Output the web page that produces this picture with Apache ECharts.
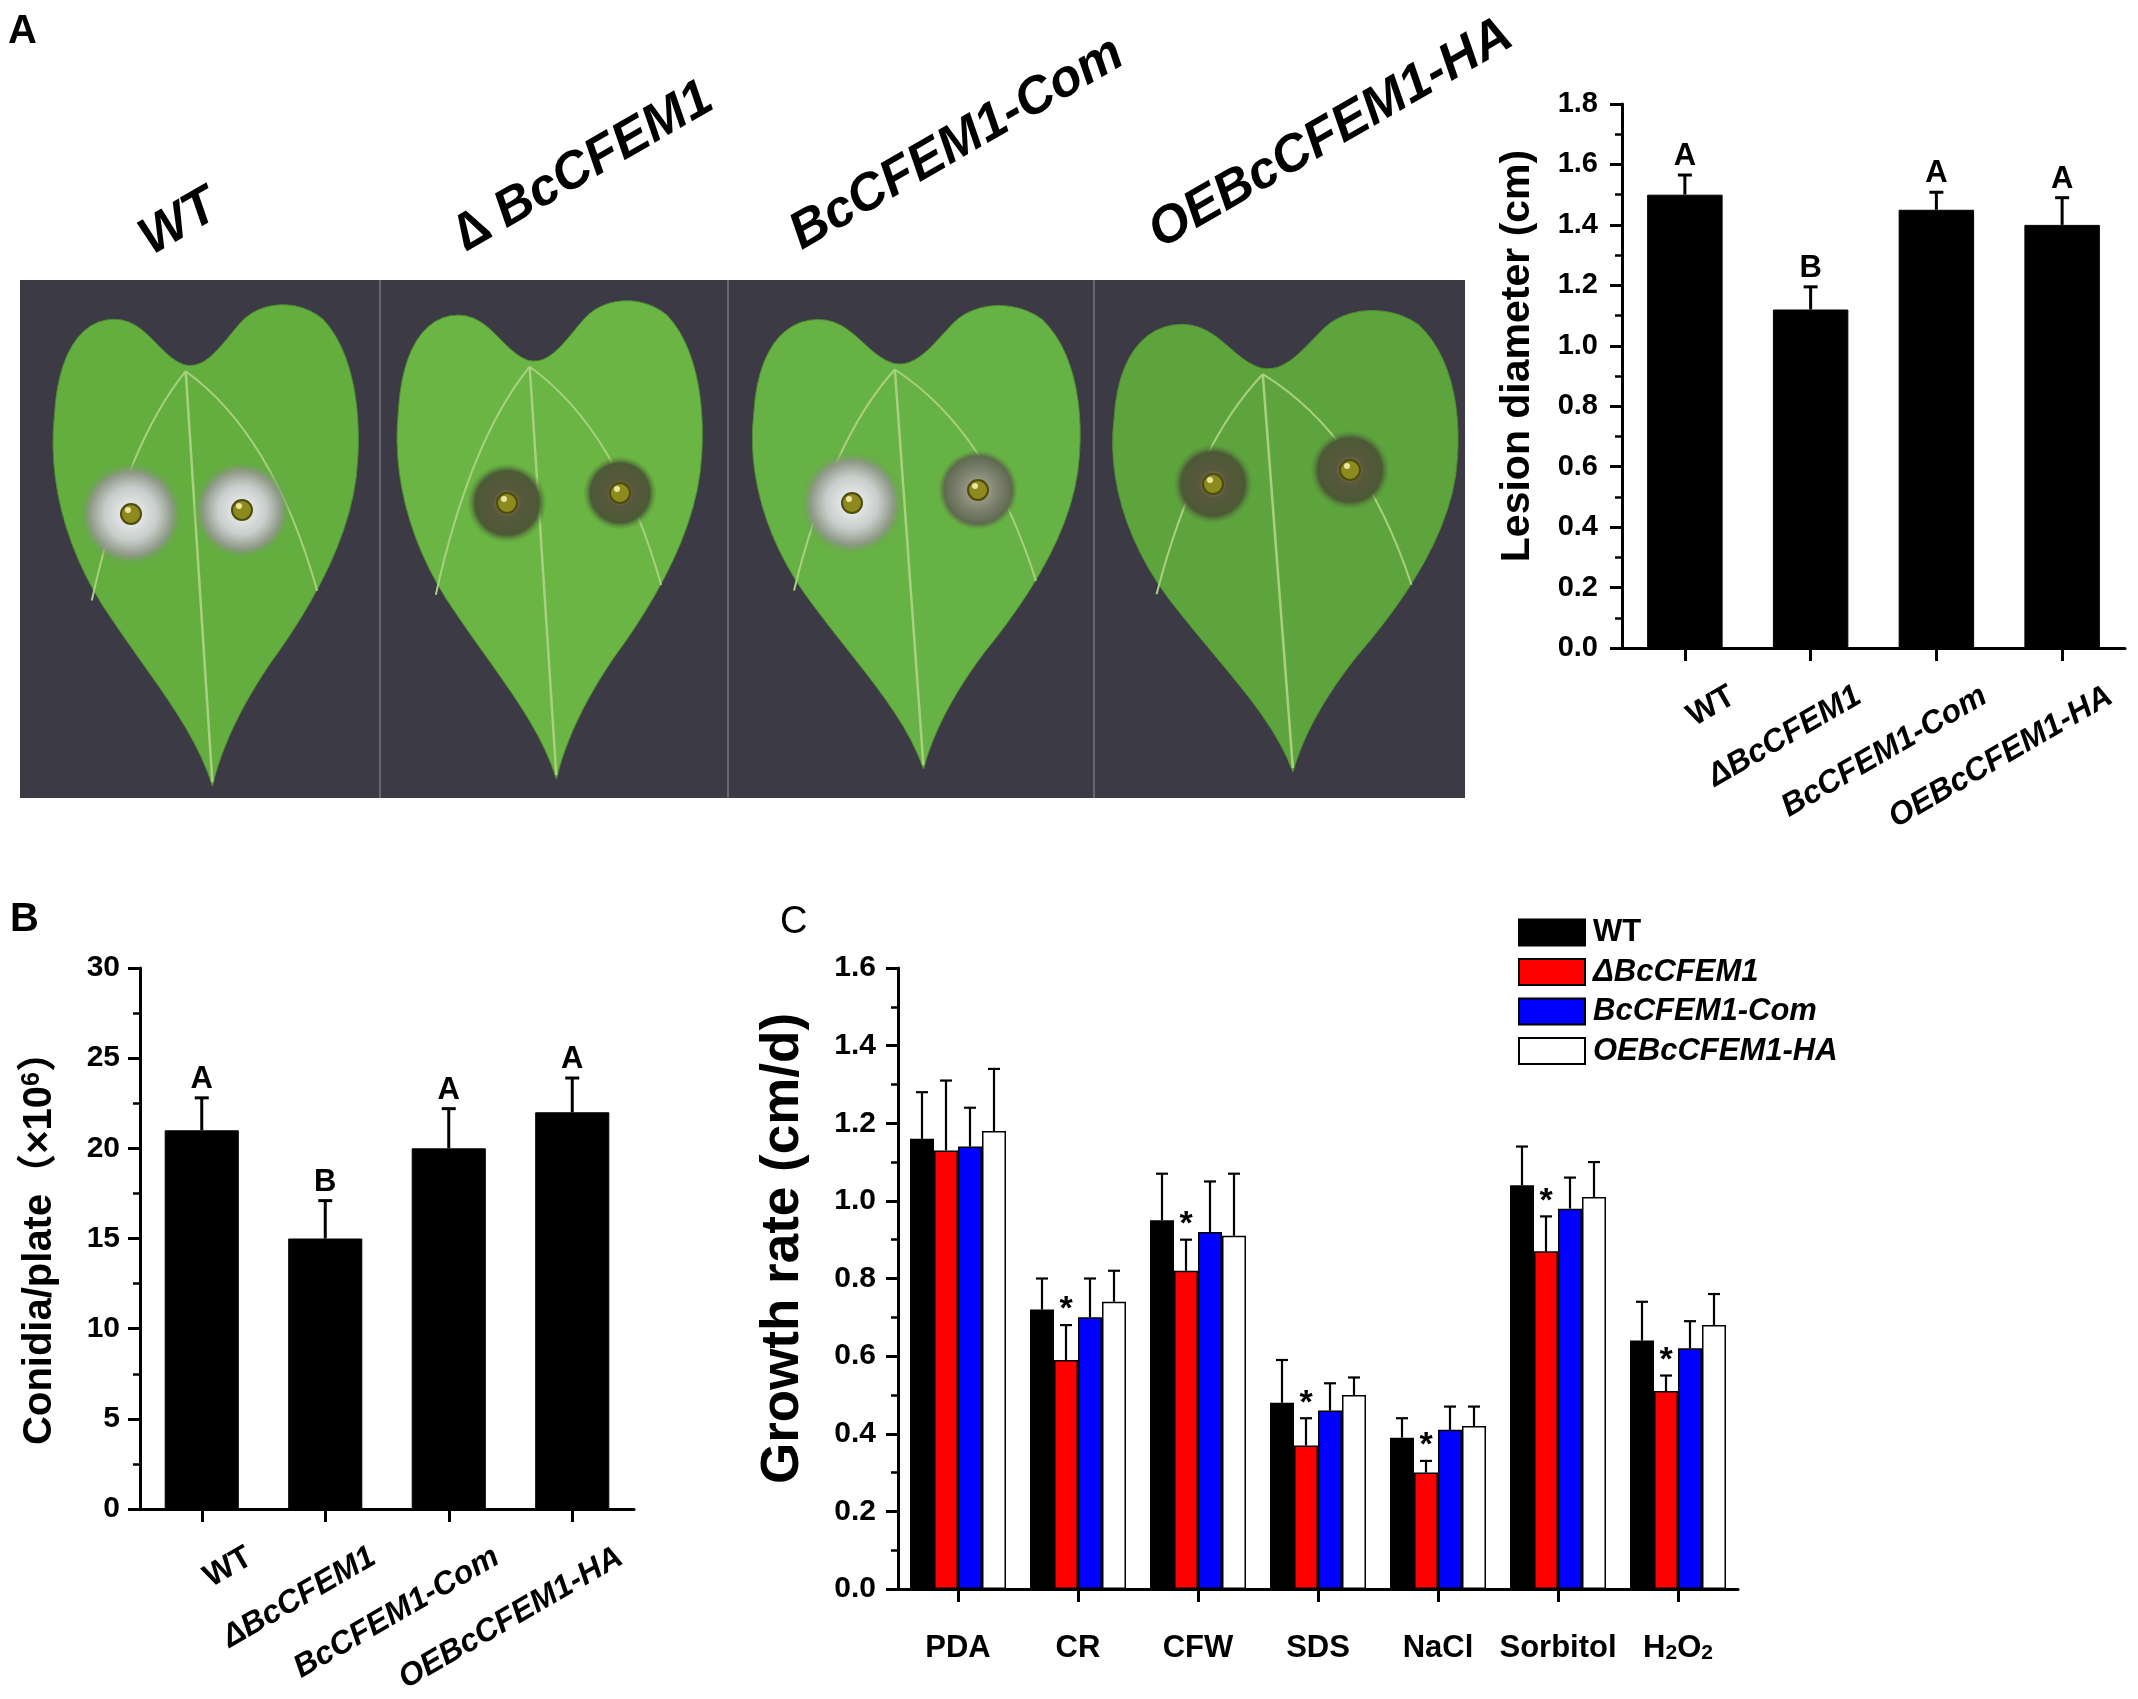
<!DOCTYPE html>
<html style="height: 100%">

<head>
    <meta charset="utf-8">
</head>

<body style="height: 100%; margin: 0; background: #fff">
    <div id="container" style="width: 2138px; height: 1699px"></div>

    <script type="text/javascript" src="https://cdn.jsdelivr.net/npm/echarts@6/dist/echarts.min.js"></script>

    <script type="text/javascript">

        // ---- data ----
        // panel A: lesion diameter (cm)
        var strains = ['WT', 'ΔBcCFEM1', 'BcCFEM1-Com', 'OEBcCFEM1-HA'];
        var photoLabels = ['WT', '\u2206 BcCFEM1', 'BcCFEM1-Com', 'OEBcCFEM1-HA'];
        var lesionMean = [1.50, 1.12, 1.45, 1.40];
        var lesionSd = [0.065, 0.075, 0.058, 0.09];
        var lesionLetters = ['A', 'B', 'A', 'A'];

        // panel B: conidia/plate (x10^6)
        var conidiaMean = [21.0, 15.0, 20.0, 22.0];
        var conidiaSd = [1.8, 2.1, 2.2, 1.9];
        var conidiaLetters = ['A', 'B', 'A', 'A'];

        // panel C: growth rate (cm/d)
        var stresses = ['PDA', 'CR', 'CFW', 'SDS', 'NaCl', 'Sorbitol', 'H2O2'];
        var growthWT = [1.16, 0.72, 0.95, 0.48, 0.39, 1.04, 0.64];
        var growthDel = [1.13, 0.59, 0.82, 0.37, 0.30, 0.87, 0.51];
        var growthCom = [1.14, 0.70, 0.92, 0.46, 0.41, 0.98, 0.62];
        var growthOE = [1.18, 0.74, 0.91, 0.50, 0.42, 1.01, 0.68];
        var sdWT = [0.12, 0.08, 0.12, 0.11, 0.05, 0.10, 0.10];
        var sdDel = [0.18, 0.09, 0.08, 0.07, 0.03, 0.09, 0.04];
        var sdCom = [0.10, 0.10, 0.13, 0.07, 0.06, 0.08, 0.07];
        var sdOE = [0.16, 0.08, 0.16, 0.045, 0.05, 0.09, 0.08];
        var sigDel = ['', '*', '*', '*', '*', '*', '*'];
        var barColors = ['#000000', '#ff0000', '#0000ff', '#ffffff'];

        var FONT = '"Liberation Sans", Arial, "Noto Sans CJK SC", sans-serif';

        var dom = document.getElementById('container');
        var myChart = echarts.init(dom);

        function italicName(v) {
            return v === 'WT' ? v : '{i|' + v + '}';
        }

        // shift: moves the rotated axis name up along the axis
        function valueAxis(grid, max, interval, digits, size, margin, name, nameGap, nameSize, shift, rich) {
            return {
                type: 'value', gridIndex: grid, min: 0, max: max, interval: interval,
                axisLine: { show: true, lineStyle: { color: '#000', width: 3 } },
                axisTick: { show: true, length: 12, lineStyle: { color: '#000', width: 3 } },
                minorTick: { show: true, splitNumber: 2, length: 7, lineStyle: { color: '#000', width: 2.5 } },
                splitLine: { show: false },
                axisLabel: {
                    color: '#000', fontFamily: FONT, fontWeight: 'bold', fontSize: size, margin: margin,
                    formatter: function (v) { return v.toFixed(digits); }
                },
                name: name, nameLocation: 'middle', nameRotate: 90, nameGap: nameGap,
                nameTextStyle: {
                    color: '#000', fontFamily: FONT, fontWeight: 'bold', fontSize: nameSize,
                    padding: [0, 0, 0, shift], rich: rich || {}
                }
            };
        }

        function hiddenY(grid, max) {
            return { type: 'value', gridIndex: grid, min: 0, max: max, show: false };
        }

        function catAxis(grid, data) {
            return {
                type: 'category', gridIndex: grid, data: data, boundaryGap: true,
                axisLine: { show: true, lineStyle: { color: '#000', width: 3 } },
                axisTick: { show: true, alignWithLabel: true, length: 13, lineStyle: { color: '#000', width: 3 } },
                axisLabel: { show: false }
            };
        }

        // labels sit in a twin grid shifted right, like the Origin layout
        function labelAxis(grid, data) {
            return {
                type: 'category', gridIndex: grid, data: data, boundaryGap: true,
                axisLine: { show: false }, axisTick: { show: false },
                axisLabel: {
                    interval: 0, rotate: 30, margin: 46, color: '#000',
                    fontFamily: FONT, fontWeight: 'bold', fontSize: 32,
                    formatter: italicName,
                    rich: { i: { fontFamily: FONT, fontWeight: 'bold', fontStyle: 'italic', fontSize: 32, color: '#000' } }
                }
            };
        }

        function errSeries(xi, means, sds, letters) {
            return {
                type: 'custom', xAxisIndex: xi, yAxisIndex: xi, z: 5,
                encode: { x: 0, y: 1 },
                data: means.map(function (m, i) { return [i, m, sds[i]]; }),
                renderItem: function (params, api) {
                    var x = api.value(0), m = api.value(1), e = api.value(2);
                    var base = api.coord([x, m]);
                    var top = api.coord([x, m + e]);
                    var st = { stroke: '#000', lineWidth: 3 };
                    return {
                        type: 'group', children: [
                            { type: 'line', shape: { x1: base[0], y1: base[1], x2: top[0], y2: top[1] }, style: st },
                            { type: 'line', shape: { x1: top[0] - 7, y1: top[1], x2: top[0] + 7, y2: top[1] }, style: st },
                            {
                                type: 'text', x: top[0], y: top[1] - 3,
                                style: {
                                    text: letters[params.dataIndex], fill: '#000',
                                    font: 'bold 31px ' + FONT,
                                    align: 'center', verticalAlign: 'bottom',
                                    textAlign: 'center', textVerticalAlign: 'bottom'
                                }
                            }
                        ]
                    };
                }
            };
        }

        // ---- leaf photo stand-in for panel A ----
        // outline as cubic segments in a 100 x 160 box
        var leafStart = [52, 160];
        var leafCurves = [
            [46, 140, 32, 124, 17, 100], [5, 80, 0, 58, 2, 38], [3, 18, 10, 6, 21, 6],
            [31, 6, 35, 18, 43, 21], [50, 23, 55, 14, 61, 7], [67, 0, 79, -1, 87, 6],
            [96, 16, 99, 34, 98, 52], [97, 76, 84, 100, 70, 120], [61, 134, 55, 147, 52, 160]
        ];
        function leafPoints(lf) {
            var pts = [];
            var p0 = leafStart;
            function map(u, v) { return [lf.x + u / 99 * lf.w, lf.y + (v + 1) / 161 * lf.h]; }
            leafCurves.forEach(function (c) {
                for (var k = 0; k < 12; k++) {
                    var t = k / 12, a = 1 - t;
                    var u = a * a * a * p0[0] + 3 * a * a * t * c[0] + 3 * a * t * t * c[2] + t * t * t * c[4];
                    var v = a * a * a * p0[1] + 3 * a * a * t * c[1] + 3 * a * t * t * c[3] + t * t * t * c[5];
                    pts.push(map(u, v));
                }
                p0 = [c[4], c[5]];
            });
            return pts;
        }
        var spotStops = {
            pale: [[0, '#f2f4f4'], [0.5, '#c8cecb'], [0.8, '#8e9987'], [1, 'rgba(100,160,70,0)']],
            dark: [[0, '#9a9050'], [0.35, '#58583c'], [0.8, '#4c5936'], [1, 'rgba(90,140,60,0)']],
            grey: [[0, '#b0b098'], [0.5, '#7e8170'], [0.85, '#5f6a50'], [1, 'rgba(90,140,60,0)']]
        };
        var leaves = [
            { x: 48, y: 298, w: 313, h: 488, fill: '#64ae40', spots: [[131, 514, 52, 'pale'], [242, 510, 49, 'pale']] },
            { x: 392, y: 294, w: 313, h: 485, fill: '#6ab543', spots: [[507, 503, 40, 'dark'], [620, 493, 37, 'dark']] },
            { x: 747, y: 299, w: 336, h: 470, fill: '#67b244', spots: [[852, 503, 52, 'pale'], [978, 490, 40, 'grey']] },
            { x: 1107, y: 304, w: 354, h: 468, fill: '#5da43d', spots: [[1213, 484, 40, 'dark'], [1350, 470, 40, 'dark']] }
        ];
        var photoPos = [[179, 223], [584, 167], [957, 144], [1331, 134]];

        var graphics = [
            { type: 'rect', shape: { x: 20, y: 280, width: 1445, height: 518 }, style: { fill: '#3b3a45' } }
        ];
        [380, 728, 1094].forEach(function (x) {
            graphics.push({ type: 'line', shape: { x1: x, y1: 280, x2: x, y2: 798 }, style: { stroke: '#77767e', lineWidth: 1.5 } });
        });
        leaves.forEach(function (lf) {
            graphics.push({
                type: 'polygon', shape: { points: leafPoints(lf) },
                style: { fill: lf.fill, stroke: '#4f8a33', lineWidth: 1 }
            });
            var nx = lf.x + 0.44 * lf.w, ny = lf.y + 0.15 * lf.h;
            graphics.push({ type: 'line', shape: { x1: nx, y1: ny, x2: lf.x + 0.525 * lf.w, y2: lf.y + lf.h - 4 }, style: { stroke: '#a9d07e', lineWidth: 2.5 } });
            graphics.push({ type: 'bezierCurve', shape: { x1: nx, y1: ny, cpx1: lf.x + 0.25 * lf.w, cpy1: lf.y + 0.3 * lf.h, x2: lf.x + 0.14 * lf.w, y2: lf.y + 0.62 * lf.h }, style: { stroke: '#a9d07e', lineWidth: 2, fill: null } });
            graphics.push({ type: 'bezierCurve', shape: { x1: nx, y1: ny, cpx1: lf.x + 0.72 * lf.w, cpy1: lf.y + 0.28 * lf.h, x2: lf.x + 0.86 * lf.w, y2: lf.y + 0.6 * lf.h }, style: { stroke: '#a9d07e', lineWidth: 2, fill: null } });
            lf.spots.forEach(function (s) {
                graphics.push({
                    type: 'circle', shape: { cx: s[0], cy: s[1], r: s[2] },
                    style: {
                        fill: {
                            type: 'radial', x: 0.5, y: 0.5, r: 0.5,
                            colorStops: spotStops[s[3]].map(function (c) { return { offset: c[0], color: c[1] }; })
                        }
                    }
                });
                graphics.push({ type: 'circle', shape: { cx: s[0], cy: s[1], r: 10 }, style: { fill: '#8d8a1e', stroke: '#4e4a10', lineWidth: 2 } });
                graphics.push({ type: 'circle', shape: { cx: s[0] - 3, cy: s[1] - 4, r: 3 }, style: { fill: '#e8e6a0' } });
            });
        });
        photoLabels.forEach(function (t, i) {
            graphics.push({
                type: 'text', x: photoPos[i][0], y: photoPos[i][1], rotation: Math.PI / 6,
                style: {
                    text: t, fill: '#000', font: 'italic bold 52px ' + FONT,
                    align: 'center', verticalAlign: 'middle', textAlign: 'center', textVerticalAlign: 'middle'
                }
            });
        });
        // panel letters
        graphics.push({ type: 'text', x: 8, y: 12, style: { text: 'A', fill: '#000', font: 'bold 40px ' + FONT } });
        graphics.push({ type: 'text', x: 10, y: 900, style: { text: 'B', fill: '#000', font: 'bold 40px ' + FONT } });
        graphics.push({ type: 'text', x: 780, y: 904, style: { text: 'C', fill: '#000', font: '38px ' + FONT } });

        // ---- panel C error bars + asterisks ----
        var growthMeans = [growthWT, growthDel, growthCom, growthOE];
        var growthSds = [sdWT, sdDel, sdCom, sdOE];
        var errCData = [];
        growthMeans.forEach(function (arr, s) {
            arr.forEach(function (m, i) { errCData.push([i, m, growthSds[s][i], s]); });
        });

        var option = {
            animation: false,
            backgroundColor: '#fff',
            graphic: { elements: graphics },
            grid: [
                { left: 1622, top: 104, width: 503, height: 544, outerBoundsMode: 'none' },
                { left: 1670, top: 104, width: 503, height: 544, outerBoundsMode: 'none' },
                { left: 140, top: 968, width: 494, height: 541, outerBoundsMode: 'none' },
                { left: 188, top: 968, width: 494, height: 541, outerBoundsMode: 'none' },
                { left: 898, top: 968, width: 840, height: 621, outerBoundsMode: 'none' }
            ],
            xAxis: [
                catAxis(0, strains),
                labelAxis(1, strains),
                catAxis(2, strains),
                labelAxis(3, strains),
                {
                    type: 'category', gridIndex: 4, data: stresses, boundaryGap: true,
                    axisLine: { show: true, lineStyle: { color: '#000', width: 3 } },
                    axisTick: { show: true, alignWithLabel: true, length: 13, lineStyle: { color: '#000', width: 3 } },
                    axisLabel: {
                        interval: 0, margin: 44, color: '#000', fontFamily: FONT, fontWeight: 'bold', fontSize: 31,
                        formatter: function (v) { return v === 'H2O2' ? '{n|H}{s|2}{n|O}{s|2}' : v; },
                        rich: {
                            n: { fontFamily: FONT, fontWeight: 'bold', fontSize: 31, lineHeight: 31, verticalAlign: 'top', color: '#000' },
                            s: { fontFamily: FONT, fontWeight: 'bold', fontSize: 21, lineHeight: 21, verticalAlign: 'bottom', padding: [24, 0, 0, 0], color: '#000' }
                        }
                    }
                }
            ],
            yAxis: [
                valueAxis(0, 1.8, 0.2, 1, 29, 24, 'Lesion diameter (cm)', 84, 41, 40),
                hiddenY(1, 1.8),
                valueAxis(2, 30, 5, 0, 30, 20, 'Conidia/plate（×10{sup|6}）', 80, 40, 0,
                    { sup: { fontFamily: FONT, fontWeight: 'bold', fontSize: 25, lineHeight: 25, verticalAlign: 'top', padding: [0, 0, 20, 0], color: '#000' } }),
                hiddenY(3, 30),
                valueAxis(4, 1.6, 0.2, 1, 30, 22, 'Growth rate (cm/d)', 88, 53, 60)
            ],
            legend: {
                data: ['WT', 'ΔBcCFEM1', 'BcCFEM1-Com', 'OEBcCFEM1-HA'],
                orient: 'vertical', left: 1518, top: 917,
                itemWidth: 66, itemHeight: 26, itemGap: 8.5, icon: 'rect',
                padding: 0,
                formatter: italicName,
                textStyle: {
                    color: '#000', fontFamily: FONT, fontWeight: 'bold', fontSize: 31, lineHeight: 26,
                    padding: [0, 0, 0, 3],
                    rich: { i: { fontFamily: FONT, fontWeight: 'bold', fontStyle: 'italic', fontSize: 31, lineHeight: 26, color: '#000' } }
                }
            },
            series: [
                {
                    type: 'bar', xAxisIndex: 0, yAxisIndex: 0, data: lesionMean, barWidth: '60%',
                    itemStyle: { color: '#000', borderColor: '#000', borderWidth: 1 }
                },
                errSeries(0, lesionMean, lesionSd, lesionLetters),
                {
                    type: 'bar', xAxisIndex: 2, yAxisIndex: 2, data: conidiaMean, barWidth: '60%',
                    itemStyle: { color: '#000', borderColor: '#000', borderWidth: 1 }
                },
                errSeries(2, conidiaMean, conidiaSd, conidiaLetters)
            ].concat(growthMeans.map(function (arr, s) {
                return {
                    name: strains[s], type: 'bar', xAxisIndex: 4, yAxisIndex: 4, data: arr,
                    barWidth: '20%', barGap: '0%',
                    itemStyle: { color: barColors[s], borderColor: '#000', borderWidth: 1.5 }
                };
            })).concat([{
                type: 'custom', xAxisIndex: 4, yAxisIndex: 4, z: 5,
                encode: { x: 0, y: 1 },
                data: errCData,
                renderItem: function (params, api) {
                    var i = api.value(0), m = api.value(1), e = api.value(2), s = api.value(3);
                    var bw = api.size([1, 0])[0] * 0.2;
                    var c0 = api.coord([i, m]);
                    var cx = c0[0] + (s - 1.5) * bw;
                    var top = api.coord([i, m + e])[1];
                    var st = { stroke: '#000', lineWidth: 2.2 };
                    var kids = [
                        { type: 'line', shape: { x1: cx, y1: c0[1], x2: cx, y2: top }, style: st },
                        { type: 'line', shape: { x1: cx - 6, y1: top, x2: cx + 6, y2: top }, style: st }
                    ];
                    if (s === 1 && sigDel[i]) {
                        kids.push({
                            type: 'text', x: cx, y: top + 2,
                            style: {
                                text: sigDel[i], fill: '#000', font: 'bold 34px ' + FONT,
                                align: 'center', verticalAlign: 'bottom', textAlign: 'center', textVerticalAlign: 'bottom'
                            }
                        });
                    }
                    return { type: 'group', children: kids };
                }
            }])
        };

        myChart.setOption(option);

    </script>
</body>

</html>
